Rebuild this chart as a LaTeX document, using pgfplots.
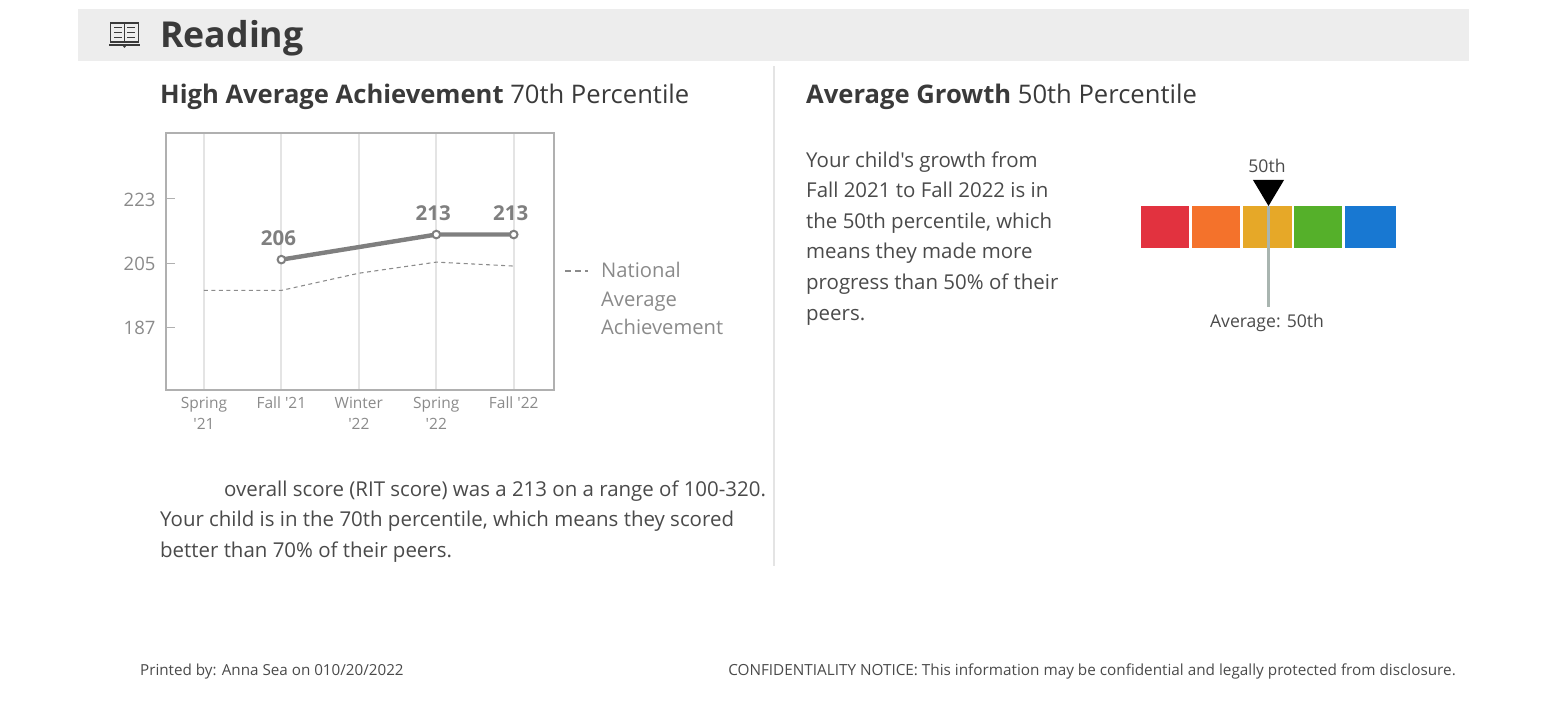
\documentclass[border=0pt]{standalone}
\usepackage{fontspec}
\setmainfont{Open Sans}[Ligatures=TeXOff]
\usepackage{pgfplots}
\pgfplotsset{compat=1.18}
\definecolor{txt}{HTML}{3A3A3A}
\definecolor{body}{HTML}{4A4A4A}
\definecolor{lab}{HTML}{8A8A8A}
\definecolor{axisg}{HTML}{B0B0B0}
\definecolor{gridg}{HTML}{E4E4E4}
\definecolor{serie}{HTML}{7F7F7F}
\definecolor{sred}{HTML}{E2323F}
\definecolor{sorange}{HTML}{F4722B}
\definecolor{syellow}{HTML}{E6A828}
\definecolor{sgreen}{HTML}{55B02A}
\definecolor{sblue}{HTML}{1878D2}
\definecolor{sline}{HTML}{A9B5B0}
\newcommand{\T}[4]{\node[anchor=base west,inner sep=0pt,text=#4] at (#1,720-#2) {#3};}
\newcommand{\fs}[1]{\fontsize{#1}{#1}\selectfont}
\begin{document}
\begin{tikzpicture}[x=1pt,y=1pt]
\path (0,0) rectangle (1555,720);
\fill[fill=black!7] (78,720-61) rectangle (1469,720-9);
\draw[gridg,line width=1.5pt] (774,720-66) -- (774,720-566);
% book icon
\begin{scope}[txt,line width=1.6pt]
\draw (110.5,720-23) rectangle (124.5,720-42);
\draw (124.5,720-23) rectangle (138.5,720-42);
\draw[line width=2pt] (109,720-45) -- (140,720-45);
\fill (124.5,720-46.5) circle (1.3pt);
\foreach \yy in {27.5,32.5,37.5}{
\draw[line width=1.5pt] (114,720-\yy) -- (122,720-\yy);
\draw[line width=1.5pt] (127,720-\yy) -- (135,720-\yy);}
\end{scope}
\T{160}{48}{\fs{35.7}\bfseries Reading}{txt}
\T{160}{104}{\fs{25.6}\textbf{High Average Achievement} 70th Percentile}{txt}
\T{806}{104}{\fs{25.6}\textbf{Average Growth} 50th Percentile}{txt}
\T{224}{497}{\fs{20.45}overall score (RIT score) was a 213 on a range of 100-320.}{body}
\T{160}{527}{\fs{20.45}Your child is in the 70th percentile, which means they scored}{body}
\T{160}{558}{\fs{20.45}better than 70\% of their peers.}{body}
\T{806}{168}{\fs{20.45}Your child's growth from}{body}
\T{806}{198}{\fs{20.45}Fall 2021 to Fall 2022 is in}{body}
\T{806}{229}{\fs{20.45}the 50th percentile, which}{body}
\T{806}{259}{\fs{20.45}means they made more}{body}
\T{806}{290}{\fs{20.45}progress than 50\% of their}{body}
\T{806}{321}{\fs{20.45}peers.}{body}
\T{140}{675}{\fs{15.2}Printed by: Anna Sea on 010/20/2022}{body}
\node[anchor=base east,inner sep=0pt,text=body] at (1456,720-675) {\fs{15.3}CONFIDENTIALITY NOTICE: This information may be confidential and legally protected from disclosure.};
\T{601}{278}{\fs{20.2}National}{lab}
\T{601}{307}{\fs{20.2}Average}{lab}
\T{601}{335}{\fs{20.2}Achievement}{lab}
\draw[lab,line width=1.1pt,dash pattern=on 6pt off 4pt] (565,720-271) -- (588,720-271);
\begin{axis}[
  at={(166pt,330pt)},anchor=south west,scale only axis,
  width=388pt,height=257pt,
  xmin=-0.49,xmax=4.52,ymin=169.6,ymax=241.35,
  axis line style={axisg,line width=1.8pt},
  xtick={0,1,2,3,4},
  xticklabels={{Spring\\'21},{Fall '21},{Winter\\'22},{Spring\\'22},{Fall '22}},
  xticklabel style={align=center,font=\fontsize{15.5}{21}\selectfont,text=lab,inner sep=2pt,yshift=-5pt},
  ytick={187,205,223},
  yticklabel style={font=\fs{18.5},text=lab,xshift=-7pt,yshift=-0.7pt},
  /pgf/number format/assume math mode=true,
  xtick style={draw=none},
  ytick style={draw=axisg,line width=1.2pt},
  ytick pos=left,
  major tick length=9pt,
  xmajorgrids,
  grid style={gridg,line width=1.8pt},
  clip=false,
  nodes near coords style={font=\fs{20.5}\bfseries,text=serie,yshift=10pt,xshift=-3pt},
]
\addplot[black!45,line width=1.1pt,dash pattern=on 4pt off 3.5pt,forget plot] coordinates {(0,197.4)(1,197.4)(2,202.2)(3,205.3)(4,204.2)};
\addplot[serie,line width=4.4pt,mark=*,mark size=3.8pt,mark options={fill=white,draw=serie,line width=2pt},
  nodes near coords,nodes near coords align={above},point meta=explicit symbolic]
  coordinates {(1,206)[206] (3,213)[213] (4,213)[213]};
\end{axis}
\begin{axis}[
  at={(1141pt,472pt)},anchor=south west,scale only axis,
  width=255pt,height=42pt,
  xmin=0,xmax=100,ymin=0,ymax=1,hide axis,clip=false,
]
\addplot[fill=sred,draw=none] coordinates {(0,0)(18.8,0)(18.8,1)(0,1)} -- cycle;
\addplot[fill=sorange,draw=none] coordinates {(20,0)(38.8,0)(38.8,1)(20,1)} -- cycle;
\addplot[fill=syellow,draw=none] coordinates {(40,0)(59.2,0)(59.2,1)(40,1)} -- cycle;
\addplot[fill=sgreen,draw=none] coordinates {(60,0)(78.8,0)(78.8,1)(60,1)} -- cycle;
\addplot[fill=sblue,draw=none] coordinates {(80,0)(100,0)(100,1)(80,1)} -- cycle;
\addplot[sline,line width=2.2pt] coordinates {(50,1)(50,-1.4)};
\addplot[fill=black,draw=none] coordinates {(50,1)(56.1,1.62)(43.9,1.62)} -- cycle;
\node[font=\fs{17.6},text=body] at (axis cs:49.4,1.95) {50th};
\node[font=\fs{17.6},text=body] at (axis cs:49.4,-1.78) {Average: 50th};
\end{axis}
\end{tikzpicture}
\end{document}
